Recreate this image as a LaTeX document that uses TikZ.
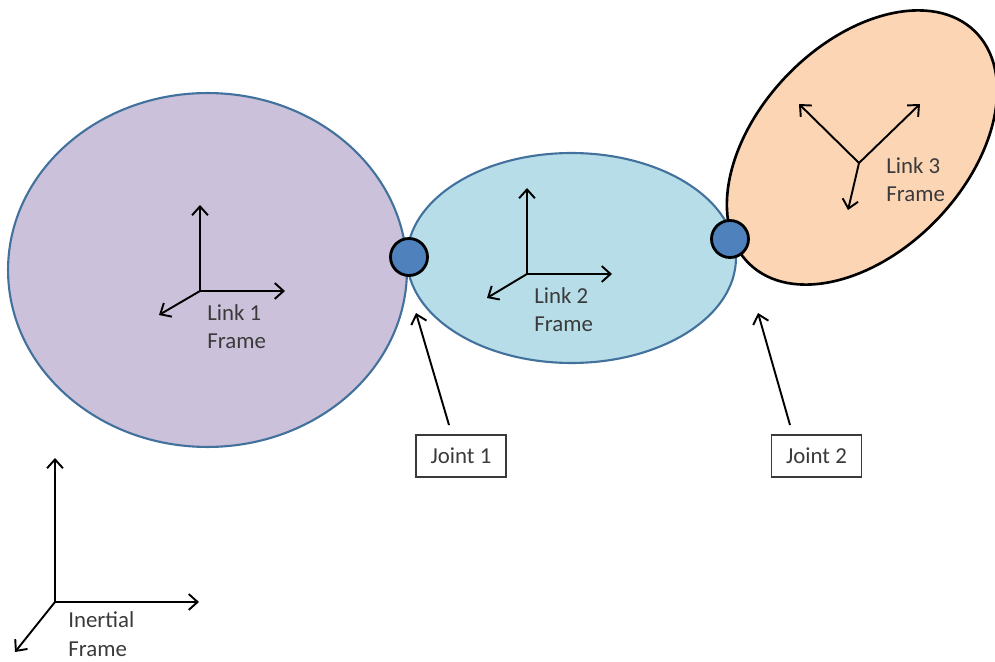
\documentclass[tikz,border=0pt]{standalone}
\usepackage{fontspec}
\setmainfont{Carlito}
\usetikzlibrary{arrows.meta}
\definecolor{lavfill}{HTML}{CCC1DA}
\definecolor{bluefill}{HTML}{B7DEE8}
\definecolor{orangefill}{HTML}{FCD5B5}
\definecolor{outlineblue}{HTML}{41719C}
\definecolor{jointfill}{HTML}{4F81BD}
\definecolor{textgray}{HTML}{3A3A3A}
\tikzset{
  linkshape/.style={draw=outlineblue, line width=1.2pt},
  axis/.style={draw=black, line width=1.1pt, -{Straight Barb[length=5pt,width=9pt,line width=1.1pt]}},
  joint/.style={circle, draw=black, line width=1.6pt, fill=jointfill, minimum size=0.74cm, inner sep=0pt},
  label/.style={font=\fontsize{13pt}{16.5pt}\selectfont, text=textgray, align=left, anchor=base west, inner sep=0pt},
  jointbox/.style={draw=textgray, line width=0.9pt, minimum width=1.8cm, minimum height=0.84cm, inner sep=0pt, font=\fontsize{13pt}{16pt}\selectfont, text=textgray},
}
\begin{document}
\begin{tikzpicture}[x=0.02cm, y=-0.02cm]
\useasboundingbox (0,0) rectangle (995,662);
% links
\draw[linkshape, fill=lavfill] (207.5,270) ellipse (3.99cm and 3.54cm);
\draw[linkshape, fill=bluefill] (571.5,258) ellipse (3.29cm and 2.10cm);
\draw[draw=black, line width=1.5pt, fill=orangefill, rotate around={46:(862,147.5)}] (862,147.5) ellipse (3.24cm and 2.08cm);
% joints
\node[joint] (J1) at (409,257) {};
\node[joint] (J2) at (730,239) {};
% link 1 frame
\coordinate (o1) at (200,291);
\coordinate (o1y) at (200,205);
\coordinate (o1x) at (285,291);
\coordinate (o1z) at (159,315);
\draw[axis] (o1) -- (o1y);
\draw[axis] (o1) -- (o1x);
\draw[axis] (o1) -- (o1z);
\node[label] (l1) at (207,349) {Link 1\\Frame};
% link 2 frame
\coordinate (o2) at (527,274);
\coordinate (o2y) at (527,188);
\coordinate (o2x) at (612,274);
\coordinate (o2z) at (487,298);
\draw[axis] (o2) -- (o2y);
\draw[axis] (o2) -- (o2x);
\draw[axis] (o2) -- (o2z);
\node[label] (l2) at (534,332) {Link 2\\Frame};
% link 3 frame
\coordinate (o3) at (859,163);
\coordinate (o3a) at (799,104);
\coordinate (o3b) at (920,104);
\coordinate (o3c) at (848,210);
\draw[axis] (o3) -- (o3a);
\draw[axis] (o3) -- (o3b);
\draw[axis] (o3) -- (o3c);
\node[label] (l3) at (886,202) {Link 3\\Frame};
% inertial frame
\coordinate (oi) at (55,602);
\coordinate (oiy) at (55,458);
\coordinate (oix) at (199,602);
\coordinate (oiz) at (15,652);
\draw[axis] (oi) -- (oiy);
\draw[axis] (oi) -- (oix);
\draw[axis] (oi) -- (oiz);
\node[label] (li) at (68,656) {Inertial\\Frame};
% joint labels
\node[jointbox] (B1) at (461,456) {Joint 1};
\node[jointbox] (B2) at (816.5,456) {Joint 2};
\coordinate (a1s) at (449,425);
\coordinate (a1e) at (416,313);
\coordinate (a2s) at (790,425);
\coordinate (a2e) at (758,313);
\draw[axis] (a1s) -- (a1e);
\draw[axis] (a2s) -- (a2e);
\end{tikzpicture}
\end{document}
